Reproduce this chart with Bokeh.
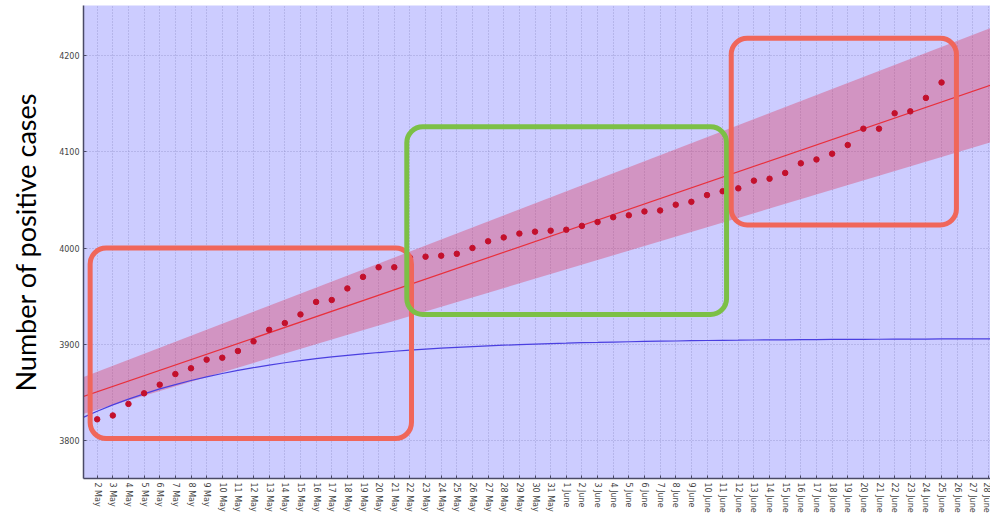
from bokeh.plotting import figure
from bokeh.models import ColumnDataSource, FixedTicker, BoxAnnotation, Range1d
from bokeh.embed import file_html
from bokeh.resources import INLINE

# ---------------- data ----------------
days = [
    "1 May", "2 May", "3 May", "4 May", "5 May", "6 May", "7 May", "8 May", "9 May", "10 May",
    "11 May", "12 May", "13 May", "14 May", "15 May", "16 May", "17 May", "18 May", "19 May", "20 May",
    "21 May", "22 May", "23 May", "24 May", "25 May", "26 May", "27 May", "28 May", "29 May", "30 May",
    "31 May", "1 June", "2 June", "3 June", "4 June", "5 June", "6 June", "7 June", "8 June", "9 June",
    "10 June", "11 June", "12 June", "13 June", "14 June", "15 June", "16 June", "17 June", "18 June",
    "19 June", "20 June", "21 June", "22 June", "23 June", "24 June", "25 June", "26 June", "27 June",
    "28 June", "29 June",
]

observed_days = days[1:56]  # 2 May .. 25 June
positive_cases = [
    3822, 3826, 3838, 3849, 3858, 3869, 3875, 3884, 3886, 3893,
    3903, 3915, 3922, 3931, 3944, 3946, 3958, 3970, 3980, 3980,
    3990, 3991, 3992, 3994, 4000, 4007, 4011, 4015, 4017, 4018,
    4019, 4023, 4027, 4032, 4034, 4038, 4039, 4045, 4048, 4055,
    4059, 4062, 4070, 4072, 4078, 4088, 4092, 4098, 4107, 4124,
    4124, 4140, 4142, 4156, 4172,
]

# linear model and its band
fit_days = ["1 May", "29 June"]
fit_values = [3845, 4174]
band_lower = [3827, 4114]
band_upper = [3865, 4234]

# saturating model (one value per day in `days`)
saturating_model = [
    3823.2, 3830.4, 3837.0, 3843.0, 3848.5, 3853.6, 3858.1, 3862.3, 3866.1, 3869.6,
    3872.8, 3875.7, 3878.3, 3880.8, 3883.0, 3885.0, 3886.8, 3888.5, 3890.0, 3891.4,
    3892.7, 3893.9, 3894.9, 3895.9, 3896.8, 3897.6, 3898.3, 3899.0, 3899.6, 3900.2,
    3900.7, 3901.1, 3901.6, 3901.9, 3902.3, 3902.6, 3902.9, 3903.2, 3903.4, 3903.7,
    3903.9, 3904.1, 3904.2, 3904.4, 3904.5, 3904.6, 3904.8, 3904.9, 3905.0, 3905.1,
    3905.1, 3905.2, 3905.3, 3905.4, 3905.4, 3905.5, 3905.5, 3905.6, 3905.6, 3905.6,
]

y_ticks = [3800, 3900, 4000, 4100, 4200]

# highlighted regions (day index, cases)
highlight_left = [0.55, 20.8, 41.55]
highlight_right = [21.1, 41.25, 55.95]
highlight_bottom = [3802, 3931, 4024]
highlight_top = [4000, 4126, 4218]
highlight_colors = ["#f0665a", "#7cc046", "#f0665a"]

# ---------------- figure ----------------
day_index = {d: i for i, d in enumerate(days)}

p = figure(
    width=990, height=517,
    output_backend="svg", toolbar_location=None,
    x_range=Range1d(0.125, 58.13), y_range=Range1d(3760.5, 4252.0),
    min_border_left=83, min_border_right=0, min_border_top=5, min_border_bottom=39,
)
p.background_fill_color = "#ccccff"
p.border_fill_color = "white"
p.outline_line_color = None

band_src = ColumnDataSource(dict(
    x=[day_index[d] for d in fit_days], lo=band_lower, hi=band_upper, fit=fit_values))
p.varea(x="x", y1="lo", y2="hi", source=band_src, fill_color="#e02040", fill_alpha=0.32)
p.line(x="x", y="fit", source=band_src, line_color="#e8303c", line_width=1.2)

sat_src = ColumnDataSource(dict(x=list(range(len(days))), y=saturating_model))
p.line(x="x", y="y", source=sat_src, line_color="#4a3fe0", line_width=1.2)

obs_src = ColumnDataSource(dict(x=[day_index[d] for d in observed_days], y=positive_cases))
p.scatter(x="x", y="y", source=obs_src, size=5.5, fill_color="#c3102c", line_color="#c3102c")

for l, r, b, t, c in zip(highlight_left, highlight_right, highlight_bottom, highlight_top, highlight_colors):
    p.add_layout(BoxAnnotation(left=l, right=r, bottom=b, top=t, fill_alpha=0,
                               fill_color=None, line_color=c, line_alpha=1.0, line_width=5,
                               border_radius=16))

# axes
p.xaxis.ticker = FixedTicker(ticks=list(range(len(days))))
p.xaxis.major_label_overrides = {i: d for i, d in enumerate(days)}
p.xaxis.major_label_orientation = "vertical"
p.yaxis.ticker = FixedTicker(ticks=y_ticks)

for ax in (p.xaxis[0], p.yaxis[0]):
    ax.axis_line_color = "#4a4a66"
    ax.axis_line_width = 1.5
    ax.major_tick_in = 3
    ax.major_tick_out = 0
    ax.minor_tick_line_color = None
    ax.major_tick_line_color = "#4a4a66"
    ax.major_label_text_font = "DejaVu Sans"
    ax.major_label_text_font_size = "8px"
    ax.major_label_text_color = "#444444"
    ax.major_label_standoff = 4

p.yaxis.axis_label = "Number of positive cases"
p.yaxis.axis_label_text_font = "Lato"
p.yaxis.axis_label_text_font_size = "27px"
p.yaxis.axis_label_text_font_style = "normal"
p.yaxis.axis_label_text_color = "black"
p.yaxis.axis_label_standoff = 14

p.xgrid.ticker = FixedTicker(ticks=list(range(len(days))))
p.ygrid.ticker = FixedTicker(ticks=y_ticks)
for g in (p.xgrid[0], p.ygrid[0]):
    g.grid_line_color = "#9494cc"
    g.grid_line_dash = "1 2"
    g.grid_line_alpha = 0.8

open("out.html", "w").write(file_html(p, INLINE))
